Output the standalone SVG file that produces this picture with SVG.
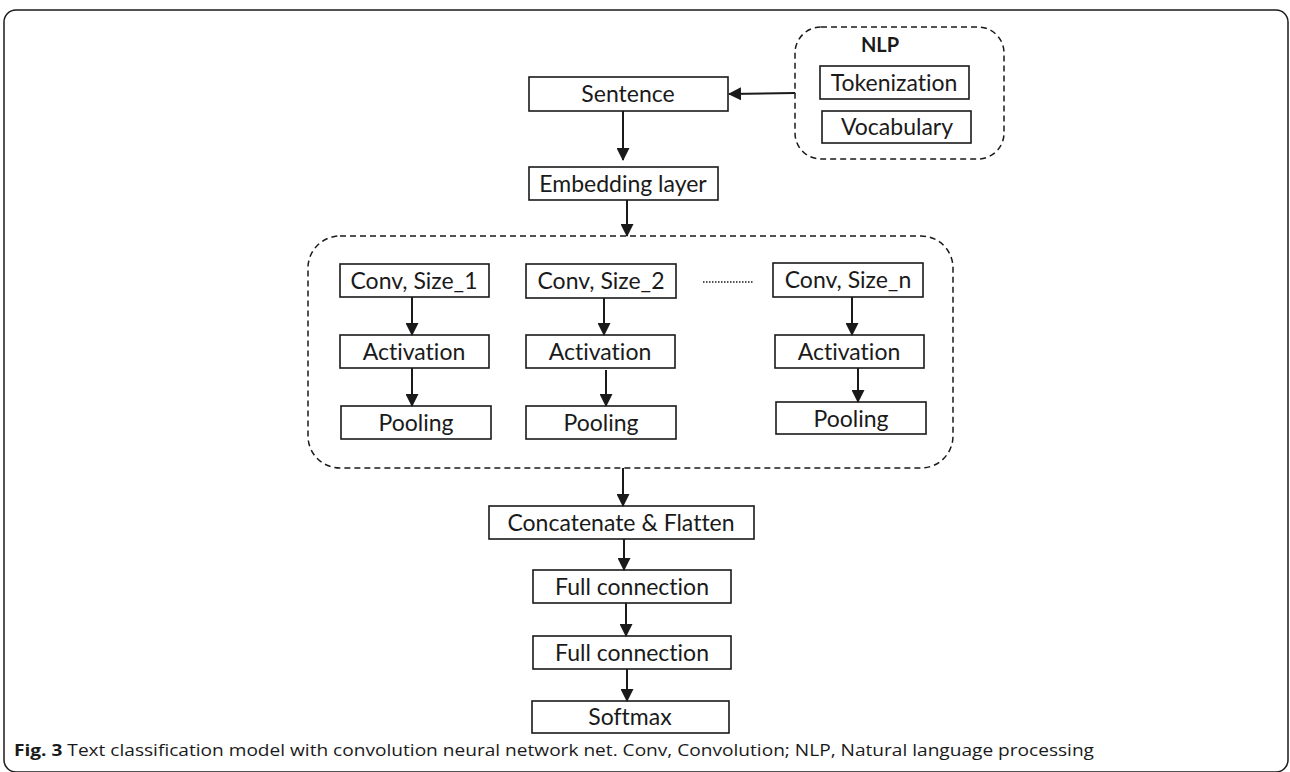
<svg xmlns="http://www.w3.org/2000/svg" width="1290" height="772" viewBox="0 0 1290 772">
<style>
.box{fill:#fff;stroke:#1a1a1a;stroke-width:1.6}
.dash{fill:none;stroke:#1a1a1a;stroke-width:1.5;stroke-dasharray:6 4}
.t{font-family:Lato,"Open Sans",sans-serif;font-size:23px;fill:#1a1a1a;text-anchor:middle;font-variant-ligatures:none}
.c{stroke:#1a1a1a;stroke-width:2;fill:none}
</style>
<defs>
<marker id="ah" markerWidth="13" markerHeight="13" refX="12" refY="6.5" orient="auto" markerUnits="userSpaceOnUse">
<path d="M0,0 L13,6.5 L0,13 Z" fill="#1a1a1a"/>
</marker>
</defs>
<rect width="1290" height="772" fill="#fff"/>
<rect x="4" y="10" width="1284" height="762" rx="12" fill="none" stroke="#1a1a1a" stroke-width="1.5"/>

<g id="nlp">
<rect class="dash" x="795" y="27" width="209" height="132" rx="26"/>
<text x="880" y="52" style="font-family:Lato,sans-serif;font-size:20px;font-weight:bold;text-anchor:middle;fill:#1a1a1a">NLP</text>
</g>
<g id="tokenization"><rect class="box" x="820" y="66" width="149" height="33"/><text class="t" x="894" y="91">Tokenization</text></g>
<g id="vocabulary"><rect class="box" x="822" y="111" width="149" height="32"/><text class="t" x="897" y="135">Vocabulary</text></g>
<g id="sentence"><rect class="box" x="529" y="77" width="199" height="34"/><text class="t" x="628" y="102">Sentence</text></g>
<g id="embedding"><rect class="box" x="529" y="167" width="189" height="33"/><text class="t" x="623" y="192">Embedding layer</text></g>

<g id="conv-block"><rect class="dash" x="308" y="236" width="645" height="232" rx="32"/></g>

<g id="conv1"><rect class="box" x="340" y="264" width="149" height="33"/><text class="t" x="414" y="289">Conv, Size_1</text></g>
<g id="act1"><rect class="box" x="340" y="335" width="149" height="33"/><text class="t" x="414" y="360">Activation</text></g>
<g id="pool1"><rect class="box" x="341" y="406" width="150" height="33"/><text class="t" x="416" y="431">Pooling</text></g>

<g id="conv2"><rect class="box" x="526" y="264" width="150" height="34"/><text class="t" x="601" y="289">Conv, Size_2</text></g>
<g id="act2"><rect class="box" x="526" y="335" width="149" height="33"/><text class="t" x="600" y="360">Activation</text></g>
<g id="pool2"><rect class="box" x="526" y="406" width="150" height="33"/><text class="t" x="601" y="431">Pooling</text></g>

<g id="convn"><rect class="box" x="773" y="263" width="150" height="34"/><text class="t" x="848" y="288">Conv, Size_n</text></g>
<g id="actn"><rect class="box" x="775" y="335" width="149" height="33"/><text class="t" x="849" y="360">Activation</text></g>
<g id="pooln"><rect class="box" x="776" y="402" width="150" height="32"/><text class="t" x="851" y="427">Pooling</text></g>

<g id="concat"><rect class="box" x="489" y="506" width="265" height="33"/><text class="t" x="621" y="531">Concatenate &amp; Flatten</text></g>
<g id="fc1"><rect class="box" x="533" y="570" width="198" height="33"/><text class="t" x="632" y="595">Full connection</text></g>
<g id="fc2"><rect class="box" x="533" y="636" width="198" height="33"/><text class="t" x="632" y="661">Full connection</text></g>
<g id="softmax"><rect class="box" x="532" y="701" width="197" height="32"/><text class="t" x="630" y="725">Softmax</text></g>

<g id="connectors">
<line class="c" x1="795" y1="93" x2="729" y2="94" marker-end="url(#ah)"/>
<line class="c" x1="623" y1="111" x2="623" y2="160" marker-end="url(#ah)"/>
<line class="c" x1="627" y1="200" x2="627" y2="236" marker-end="url(#ah)"/>
<line class="c" x1="412" y1="297" x2="412" y2="335" marker-end="url(#ah)"/>
<line class="c" x1="412" y1="368" x2="412" y2="406" marker-end="url(#ah)"/>
<line class="c" x1="604" y1="298" x2="604" y2="335" marker-end="url(#ah)"/>
<line class="c" x1="606" y1="370" x2="606" y2="406" marker-end="url(#ah)"/>
<line class="c" x1="852" y1="297" x2="852" y2="335" marker-end="url(#ah)"/>
<line class="c" x1="858" y1="368" x2="858" y2="402" marker-end="url(#ah)"/>
<line x1="703" y1="282" x2="753" y2="282" stroke="#1a1a1a" stroke-width="1.5" stroke-dasharray="1.5 1.5"/>
<line class="c" x1="623" y1="468" x2="623" y2="506" marker-end="url(#ah)"/>
<line class="c" x1="624" y1="539" x2="624" y2="570" marker-end="url(#ah)"/>
<line class="c" x1="626" y1="603" x2="626" y2="636" marker-end="url(#ah)"/>
<line class="c" x1="627" y1="669" x2="627" y2="701" marker-end="url(#ah)"/>
</g>

<text x="14" y="756" style="font-family:'Open Sans',sans-serif;font-size:16.5px;fill:#1a1a1a" textLength="1080" lengthAdjust="spacingAndGlyphs"><tspan font-weight="bold">Fig. 3</tspan> Text classification model with convolution neural network net. Conv, Convolution; NLP, Natural language processing</text>
</svg>
